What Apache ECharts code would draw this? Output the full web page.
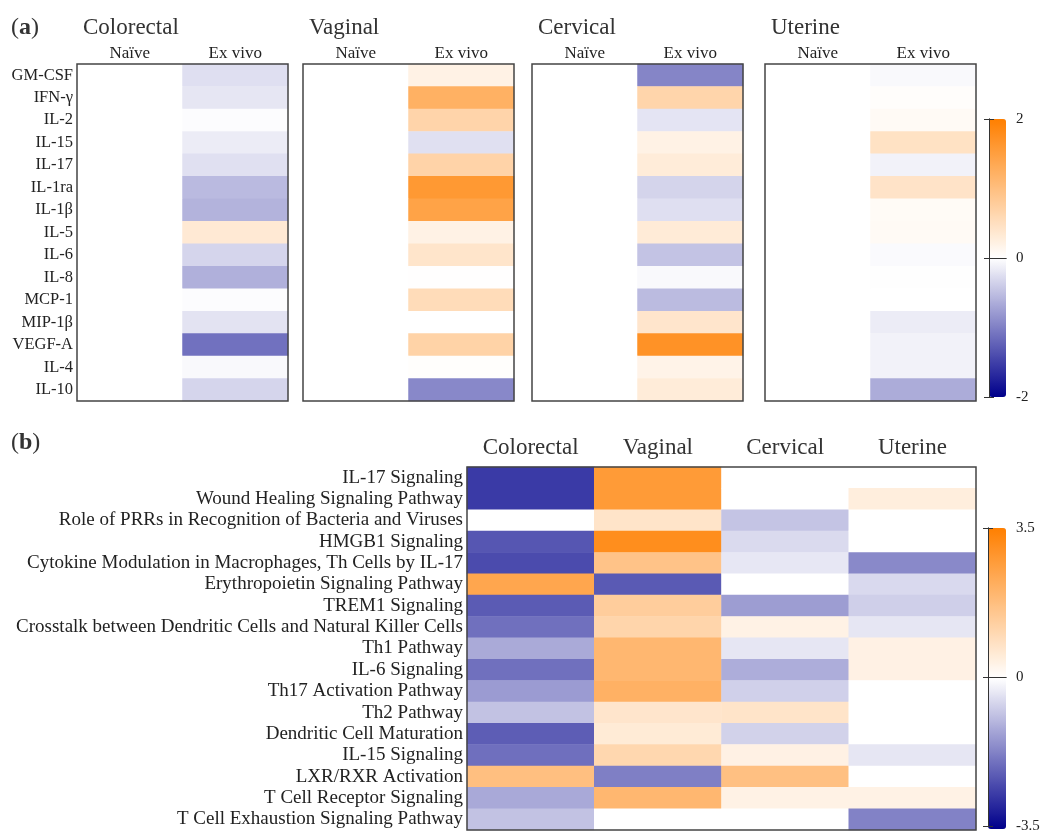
<!DOCTYPE html>
<html>
<head>
<meta charset="utf-8">
<script src="https://cdn.jsdelivr.net/npm/echarts@6/dist/echarts.min.js"></script>
<style>
  html, body { margin: 0; padding: 0; background: #ffffff; }
  #chart { width: 1045px; height: 834px; }
</style>
</head>
<body>
<div id="chart"></div>
<script>
// ---- Panel (a): cytokine fold change, naïve vs ex vivo, per tissue ----
const cytokines = ['GM-CSF', 'IFN-γ', 'IL-2', 'IL-15', 'IL-17', 'IL-1ra', 'IL-1β', 'IL-5',
  'IL-6', 'IL-8', 'MCP-1', 'MIP-1β', 'VEGF-A', 'IL-4', 'IL-10'];
const conditions = ['Naïve', 'Ex vivo'];
const tissues = ['Colorectal', 'Vaginal', 'Cervical', 'Uterine'];

const naiveValues = [0, 0, 0, 0, 0, 0, 0, 0, 0, 0, 0, 0, 0, 0, 0];
const colorectalExVivo = [-0.25, -0.2, -0.02, -0.15, -0.24, -0.54, -0.6, 0.34, -0.33, -0.62, -0.02, -0.22, -1.11, -0.05, -0.33];
const vaginalExVivo = [0.2, 1.22, 0.67, -0.24, 0.68, 1.6, 1.44, 0.2, 0.41, 0.01, 0.55, 0, 0.69, 0.02, -0.93];
const cervicalExVivo = [-0.96, 0.66, -0.21, 0.2, 0.3, -0.34, -0.25, 0.31, -0.47, -0.05, -0.53, 0.4, 1.7, 0.18, 0.3];
const uterineExVivo = [-0.05, 0.03, 0.08, 0.46, -0.1, 0.43, 0.07, 0.08, -0.04, -0.01, 0, -0.15, -0.1, -0.1, -0.65];

const scaleATicks = [-2, 2, 2];   // min, max, interval

// ---- Panel (b): pathway activation z-scores per tissue ----
const pathways = ['IL-17 Signaling', 'Wound Healing Signaling Pathway',
  'Role of PRRs in Recognition of Bacteria and Viruses', 'HMGB1 Signaling',
  'Cytokine Modulation in Macrophages, Th Cells by IL-17', 'Erythropoietin Signaling Pathway',
  'TREM1 Signaling', 'Crosstalk between Dendritic Cells and Natural Killer Cells',
  'Th1 Pathway', 'IL-6 Signaling', 'Th17 Activation Pathway', 'Th2 Pathway',
  'Dendritic Cell Maturation', 'IL-15 Signaling', 'LXR/RXR Activation',
  'T Cell Receptor Signaling', 'T Cell Exhaustion Signaling Pathway'];

const colorectalPathway = [-2.7, -2.7, 0, -2.32, -2.47, 2.43, -2.25, -1.96, -1.17, -1.96, -1.37, -0.84, -2.23, -1.97, 1.75, -1.18, -0.84];
const vaginalPathway = [2.74, 2.74, 0.74, 3.1, 1.63, -2.27, 1.36, 1.15, 1.96, 1.96, 2.13, 0.7, 0.56, 1.1, -1.76, 1.96, 0];
const cervicalPathway = [0, 0, -0.81, -0.51, -0.33, 0, -1.35, 0.36, -0.35, -1.13, -0.64, 0.74, -0.62, 0.37, 1.72, 0.35, 0];
const uterinePathway = [0, 0.47, 0, 0, -1.62, -0.52, -0.66, -0.35, 0.37, 0.37, 0, 0, 0, -0.35, 0, 0.35, -1.72];

const scaleBTicks = [-3.5, 3.5, 3.5]; // min, max, interval

// ---- styling ----
const FONT = "'Liberation Serif', 'DejaVu Serif', serif";
const TEXT = '#222';
const FRAME = '#444';
const RAMP = ['#00008b', '#ffffff', '#ff7f00'];

const exVivoByTissue = [colorectalExVivo, vaginalExVivo, cervicalExVivo, uterineExVivo];
const pathwayByTissue = [colorectalPathway, vaginalPathway, cervicalPathway, uterinePathway];

const aLefts = [77, 303, 532, 765];
const aTop = 64, aWidth = 211, aHeight = 337;

const grids = [], xAxes = [], yAxes = [], series = [], titles = [];

// panel (a) small heatmaps
tissues.forEach((tissue, i) => {
  grids.push({ left: aLefts[i], top: aTop, width: aWidth, height: aHeight,
    show: true, z: 10, borderColor: FRAME, borderWidth: 1.5, backgroundColor: 'transparent' });
  xAxes.push({ type: 'category', gridIndex: i, data: conditions, position: 'top',
    axisLine: { show: false }, axisTick: { show: false }, splitLine: { show: false },
    axisLabel: { interval: 0, fontFamily: FONT, fontSize: 17, color: TEXT, margin: 2 } });
  yAxes.push({ type: 'category', gridIndex: i, data: cytokines, inverse: true,
    axisLine: { show: false }, axisTick: { show: false }, splitLine: { show: false },
    axisLabel: { show: i === 0, interval: 0, fontFamily: FONT, fontSize: 16.5, color: TEXT, margin: 4 } });
  const data = [];
  cytokines.forEach((c, r) => {
    data.push([0, r, naiveValues[r]]);
    data.push([1, r, exVivoByTissue[i][r]]);
  });
  series.push({ type: 'heatmap', xAxisIndex: i, yAxisIndex: i, data,
    itemStyle: { borderWidth: 0 }, emphasis: { disabled: true }, silent: true });
  titles.push({ text: tissue, left: aLefts[i] + 6, top: 16, padding: 0,
    textStyle: { fontFamily: FONT, fontSize: 23, fontWeight: 'normal', color: '#333' } });
});

// panel (b) pathway heatmap
const bIdx = 4;
grids.push({ left: 467, top: 467, width: 509, height: 363,
  show: true, z: 10, borderColor: FRAME, borderWidth: 1.5, backgroundColor: 'transparent' });
xAxes.push({ type: 'category', gridIndex: bIdx, data: tissues, position: 'top',
  axisLine: { show: false }, axisTick: { show: false }, splitLine: { show: false },
  axisLabel: { interval: 0, fontFamily: FONT, fontSize: 23, color: '#333', margin: 8 } });
yAxes.push({ type: 'category', gridIndex: bIdx, data: pathways, inverse: true,
  axisLine: { show: false }, axisTick: { show: false }, splitLine: { show: false },
  axisLabel: { interval: 0, fontFamily: FONT, fontSize: 19, color: TEXT, margin: 4 } });
const bData = [];
tissues.forEach((t, c) => pathways.forEach((p, r) => bData.push([c, r, pathwayByTissue[c][r]])));
series.push({ type: 'heatmap', xAxisIndex: bIdx, yAxisIndex: bIdx, data: bData,
  itemStyle: { borderWidth: 0 }, emphasis: { disabled: true }, silent: true });

// colour bar frame, ticks on both sides, labels on the right
const cbLine = { show: true, lineStyle: { color: '#333', width: 1 } };
function colorbarAxes(gridIndex, rect, ticks) {
  grids.push(Object.assign({ show: false }, rect));
  ['bottom', 'top'].forEach(pos => xAxes.push({ type: 'value', gridIndex, min: 0, max: 1, position: pos, z: 10,
    axisLine: cbLine, axisTick: { show: false }, axisLabel: { show: false }, splitLine: { show: false } }));
  const common = { type: 'value', gridIndex, min: ticks[0], max: ticks[1], interval: ticks[2], z: 10,
    splitLine: { show: false }, axisLine: cbLine,
    axisTick: { show: true, length: 5, lineStyle: { color: '#333', width: 1 } } };
  yAxes.push(Object.assign({}, common, { position: 'left', axisLabel: { show: false } }));
  yAxes.push(Object.assign({}, common, { position: 'right',
    axisLabel: { fontFamily: FONT, fontSize: 15, color: TEXT, margin: 10 } }));
}
const cbA = { left: 989, top: 119, width: 17, height: 278 };
const cbB = { left: 988, top: 528, width: 18, height: 301 };
colorbarAxes(5, cbA, scaleATicks);
colorbarAxes(6, cbB, scaleBTicks);

const panelTag = letter => ({ text: '{p|(}{b|' + letter + '}{p|)}',
  rich: { p: { fontFamily: FONT, fontSize: 24, fill: '#333' },
          b: { fontFamily: FONT, fontSize: 24, fontWeight: 'bold', fill: '#333' } } });

const option = {
  backgroundColor: '#ffffff',
  animation: false,
  title: titles,
  grid: grids,
  xAxis: xAxes,
  yAxis: yAxes,
  visualMap: [
    { type: 'continuous', min: scaleATicks[0], max: scaleATicks[1], seriesIndex: [0, 1, 2, 3],
      inRange: { color: RAMP }, left: cbA.left, top: cbA.top, itemWidth: cbA.width, itemHeight: cbA.height,
      calculable: false, hoverLink: false, padding: 0, borderWidth: 0, text: null, z: 4 },
    { type: 'continuous', min: scaleBTicks[0], max: scaleBTicks[1], seriesIndex: [4],
      inRange: { color: RAMP }, left: cbB.left, top: cbB.top, itemWidth: cbB.width, itemHeight: cbB.height,
      calculable: false, hoverLink: false, padding: 0, borderWidth: 0, text: null, z: 4 }
  ],
  graphic: [
    { type: 'text', left: 11, top: 16, z: 20, style: panelTag('a') },
    { type: 'text', left: 11, top: 431, z: 20, style: panelTag('b') }
  ],
  series
};

const chart = echarts.init(document.getElementById('chart'), null, { renderer: 'canvas' });
chart.setOption(option);
</script>
</body>
</html>
